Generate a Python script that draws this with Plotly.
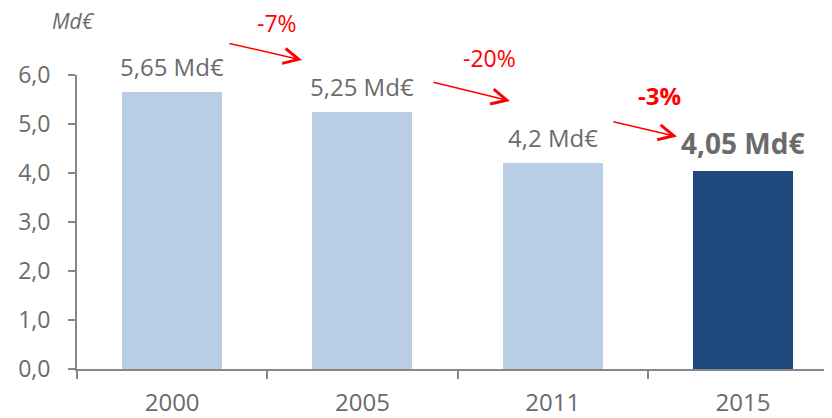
import plotly.graph_objects as go

# ---- data ----
years = ["2000", "2005", "2011", "2015"]
values = [5.65, 5.25, 4.2, 4.05]
value_labels = ["5,65 Md€", "5,25 Md€", "4,2 Md€", "4,05 Md€"]
change_labels = ["-7%", "-20%", "-3%"]
y_ticks = [0, 1, 2, 3, 4, 5, 6]
y_tick_labels = ["0,0", "1,0", "2,0", "3,0", "4,0", "5,0", "6,0"]
unit_label = "Md€"

# ---- style ----
FONT = "Open Sans"
LIGHT = "#B9CDE5"
DARK = "#1F497D"
GRAY_TXT = "#6B6B6B"
AXIS = "#878787"
RED = "#FF0000"
highlight = len(years) - 1
bar_colors = [DARK if i == highlight else LIGHT for i in range(len(years))]

fig = go.Figure()
fig.add_trace(go.Bar(
    x=years, y=values, marker=dict(color=bar_colors, line=dict(width=0)),
    width=0.525, hoverinfo="skip",
))

annotations = []
# value labels above bars
for i, (yr, v, lab) in enumerate(zip(years, values, value_labels)):
    bold = i == highlight
    annotations.append(dict(
        x=i, y=v, xref="x", yref="y", text=f"<b>{lab}</b>" if bold else lab,
        showarrow=False, yanchor="bottom", yshift=7,
        font=dict(family=FONT, size=28 if bold else 24, color=GRAY_TXT),
    ))

# change arrows: tip position (paper) and tail offset (pixels)
arrow_tip = [(0.298, 1.0508), (0.5735, 0.9119), (0.7947, 0.7908)]
arrow_tail = [(-74, -17), (-78, -19), (-65, -15)]
label_pos = [(0.265, 1.176), (0.547, 1.057), (0.7709, 0.9288)]
for i, ((hx, hy), (tx, ty), (lx, ly), lab) in enumerate(
        zip(arrow_tip, arrow_tail, label_pos, change_labels)):
    annotations.append(dict(
        x=hx, y=hy, xref="paper", yref="paper", ax=tx, ay=ty,
        axref="pixel", ayref="pixel",
        text="", showarrow=True, arrowhead=5, arrowsize=2, arrowwidth=1.5,
        arrowcolor=RED, standoff=0,
    ))
    bold = i == len(change_labels) - 1
    annotations.append(dict(
        x=lx, y=ly, xref="paper", yref="paper", text=f"<b>{lab}</b>" if bold else lab,
        showarrow=False, xanchor="center", yanchor="middle",
        font=dict(family=FONT, size=24 if bold else 23, color=RED),
    ))

annotations.append(dict(
    x=-0.004, y=1.183, xref="paper", yref="paper", text=f"<i>{unit_label}</i>",
    showarrow=False, xanchor="center", yanchor="middle",
    font=dict(family=FONT, size=21, color=GRAY_TXT),
))

# page body has an 8px margin, so the figure is shrunk by that amount
fig.update_layout(
    width=824, height=410,
    margin=dict(l=69, r=0, t=67, b=40),
    paper_bgcolor="white", plot_bgcolor="white",
    showlegend=False, bargap=0,
    annotations=annotations,
    font=dict(family=FONT, color=GRAY_TXT),
)
fig.update_xaxes(
    type="category", range=[-0.5, 3.468],
    showline=True, linecolor=AXIS, linewidth=2,
    ticks="outside", tickson="boundaries", ticklen=8, tickwidth=2, tickcolor=AXIS,
    tickfont=dict(family=FONT, size=24, color=GRAY_TXT),
    ticklabelstandoff=11, showgrid=False, zeroline=False,
)
fig.update_yaxes(
    range=[0, 6], tickvals=y_ticks, ticktext=y_tick_labels,
    showline=True, linecolor=AXIS, linewidth=2,
    ticks="outside", ticklen=7, tickwidth=2, tickcolor=AXIS,
    tickfont=dict(family=FONT, size=23, color=GRAY_TXT),
    ticklabelstandoff=13, showgrid=False, zeroline=False,
)

fig.write_html("out.html")
